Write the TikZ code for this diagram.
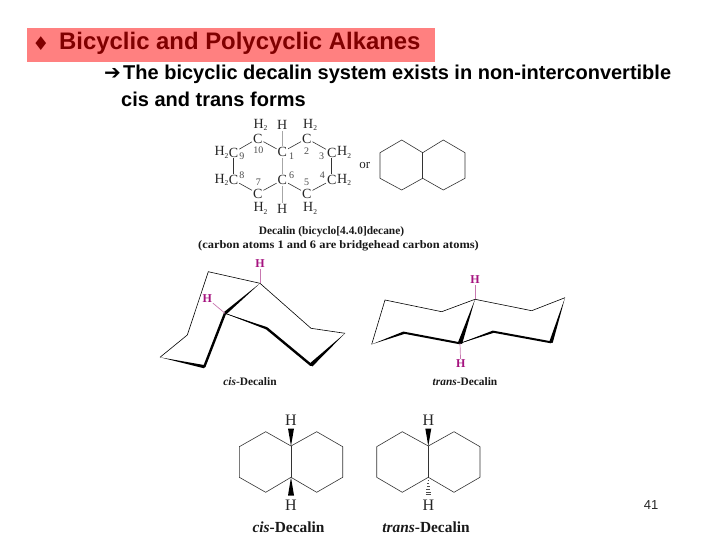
\documentclass[tikz,border=0pt]{standalone}
\usepackage{fontspec}
\setmainfont{Liberation Serif}
\setsansfont{Liberation Sans}
\newfontfamily\symfont{DejaVu Sans}
\usetikzlibrary{calc}
\definecolor{titlebg}{HTML}{FF8080}
\definecolor{titlefg}{HTML}{800000}
\definecolor{hmag}{HTML}{A5127F}
\definecolor{hbond}{HTML}{C878B0}
\tikzset{
  atom/.style={inner sep=0pt,font=\fontsize{14}{14}\selectfont,text=black!85},
  atomw/.style={atom,anchor=west},
  num/.style={inner sep=0pt,font=\fontsize{10}{10}\selectfont,text=black!70},
  bond/.style={draw=black!80,line width=0.6pt,shorten <=1pt,shorten >=1pt},
  lbond/.style={draw=black!35,line width=0.6pt,shorten <=1pt,shorten >=1pt},
  ring/.style={draw=black!80,line width=0.6pt,line join=round},
  conf/.style={draw=black,line width=0.6pt,line join=round},
  thickb/.style={draw=black,line width=2.4pt,line cap=round},
  hlabel/.style={inner sep=0pt,text=hmag,font=\fontsize{12}{12}\bfseries\selectfont},
  hblack/.style={inner sep=0pt,text=black!85,font=\fontsize{16}{16}\selectfont},
  hbondc/.style={draw=hbond,line width=0.7pt,shorten >=1pt},
  captxt/.style={inner sep=0pt,text=black!90,font=\fontsize{11.4}{12}\bfseries\selectfont},
  capbig/.style={inner sep=0pt,text=black!90,font=\fontsize{15.4}{16}\bfseries\selectfont},
  sans/.style={inner sep=0pt,anchor=west,text=black,font=\sffamily\bfseries\fontsize{20}{22}\selectfont}
}
\newcommand{\wedgeb}[3]{\fill[black] (#1) -- ($(#2)!#3!90:(#1)$) -- ($(#2)!#3!-90:(#1)$) -- cycle;}
\newcommand{\subtwo}{\raisebox{-2.5pt}{\fontsize{7.5}{7.5}\selectfont 2}}
\begin{document}
\begin{tikzpicture}[x=1pt,y=-1pt]
\useasboundingbox (0,0) rectangle (720,540);
\fill[white] (0,0) rectangle (720,540);
% title
\node[fill=titlebg,minimum width=408pt,minimum height=34pt,inner sep=0pt,anchor=north west] (band) at (27,28) {};
\node[inner sep=0pt,text=titlefg,font=\symfont\fontsize{19}{19}\selectfont] (dia) at (41,44) {♦};
\node[sans,text=titlefg,font=\sffamily\bfseries\fontsize{23.9}{26}\selectfont] (title) at (59,43.5) {Bicyclic and Polycyclic Alkanes};
\node[inner sep=0pt,anchor=west,font=\symfont\fontsize{20}{20}\selectfont] (arr) at (104,73.5) {➔};
\node[sans] (l1) at (123,74) {The bicyclic decalin system exists in non-interconvertible};
\node[sans] (l2) at (121,99) {cis and trans forms};
% condensed structure
\node[atom] (c10) at (257.7,138.5) {C};
\node[atom] (c1) at (282.3,152) {C};
\node[atom] (c2) at (306.7,138.5) {C};
\node[atom] (c3) at (331.7,152.5) {C};
\node[atom] (c4) at (331.7,180) {C};
\node[atom] (c5) at (306.7,193.5) {C};
\node[atom] (c6) at (282.3,180) {C};
\node[atom] (c7) at (257.7,193.5) {C};
\node[atom] (c8) at (233.5,180) {C};
\node[atom] (c9) at (233.5,152.5) {C};
\node[atomw] (h10) at (253.3,125) {H\subtwo};
\node[atom] (h1) at (282.3,125) {H};
\node[atomw] (h2) at (303,125) {H\subtwo};
\node[atomw] (h3) at (337,152.5) {H\subtwo};
\node[atomw] (h4) at (337,180) {H\subtwo};
\node[atomw] (h5) at (303,208.5) {H\subtwo};
\node[atom] (h6) at (282.3,208.5) {H};
\node[atomw] (h7) at (253.3,208.5) {H\subtwo};
\node[atomw] (h8) at (214.3,180) {H\subtwo};
\node[atomw] (h9) at (214.3,152.5) {H\subtwo};
\node[num] (n1) at (291.7,156.7) {1};
\node[num] (n2) at (306.7,151) {2};
\node[num] (n3) at (321.7,156.7) {3};
\node[num] (n4) at (322.3,175.7) {4};
\node[num] (n5) at (306.7,182.3) {5};
\node[num] (n6) at (291.7,175) {6};
\node[num] (n7) at (258.3,182.3) {7};
\node[num] (n8) at (241.9,175) {8};
\node[num] (n9) at (241.9,156) {9};
\node[num] (n10) at (258.3,150.7) {10};
\draw[bond] (c10)--(c1);
\draw[bond] (c1)--(c2);
\draw[bond] (c2)--(c3);
\draw[bond] (c3)--(c4);
\draw[bond] (c4)--(c5);
\draw[bond] (c5)--(c6);
\draw[bond] (c6)--(c7);
\draw[bond] (c7)--(c8);
\draw[bond] (c8)--(c9);
\draw[bond] (c9)--(c10);
\draw[lbond] (c1)--(c6);
\draw[lbond] (h1)--(c1);
\draw[lbond] (c6)--(h6);
\node[inner sep=0pt,text=black!85,font=\fontsize{13}{13}\selectfont] (or) at (364.7,166) {or};
% skeletal
\coordinate (a1) at (380,152.7);
\coordinate (a2) at (401.7,140);
\coordinate (a3) at (422.7,152.7);
\coordinate (a4) at (443.3,140);
\coordinate (a5) at (465,152.7);
\coordinate (a6) at (465,178.3);
\coordinate (a7) at (443.3,190);
\coordinate (a8) at (422.7,178.3);
\coordinate (a9) at (401.7,190);
\coordinate (a10) at (380,178.3);
\draw[ring] (a1)--(a2)--(a3)--(a4)--(a5)--(a6)--(a7)--(a8)--(a9)--(a10)--cycle;
\draw[ring] (a3)--(a8);
\node[captxt] (cap1) at (331.5,231.5) {Decalin (bicyclo[4.4.0]decane)};
\node[captxt,xscale=1.09,transform shape] (cap2) at (338.5,246) {(carbon atoms 1 and 6 are bridgehead carbon atoms)};
% cis chair
\coordinate (ca) at (208.3,271.7);
\coordinate (cb) at (260,283.3);
\coordinate (cc) at (225,313.3);
\coordinate (cd) at (266.7,328.3);
\coordinate (ce) at (311,365);
\coordinate (cf) at (345,333.3);
\coordinate (cg) at (311,328.3);
\coordinate (ch) at (187.3,335);
\coordinate (ci) at (160,357.3);
\coordinate (cj) at (204.3,366.7);
\draw[conf] (cc)--(cd);
\draw[conf] (ci)--(ch)--(ca)--(cb)--(cg)--(cf);
\wedgeb{cb}{cc}{1.6pt}
\wedgeb{ci}{cj}{1.6pt}
\wedgeb{cf}{ce}{2pt}
\wedgeb{cc}{cd}{1.2pt}
\draw[thickb] (cc)--(cj);
\draw[thickb] (cd)--(ce);
\node[hlabel] (hc1) at (260,263.5) {H};
\node[hlabel] (hc2) at (207.3,298.5) {H};
\draw[hbondc] (cb)--(hc1);
\draw[hbondc] (cc)--(hc2);
\node[captxt] (cap3) at (250,382) {\textit{cis}-Decalin};
% trans chair
\coordinate (tp) at (385,300);
\coordinate (tq) at (441.7,311.7);
\coordinate (tr) at (475,299.3);
\coordinate (ts) at (531.7,310.7);
\coordinate (tt) at (565,297.7);
\coordinate (tu) at (551,342.3);
\coordinate (tv) at (493.3,331.7);
\coordinate (tw) at (460,343.3);
\coordinate (tx) at (404,332.7);
\coordinate (ty) at (371.7,344.3);
\draw[conf] (ty)--(tp)--(tq)--(tr)--(ts)--(tt);
\draw[conf] (tw)--(tv);
\wedgeb{tr}{tw}{2.2pt}
\wedgeb{tt}{tu}{1.8pt}
\wedgeb{ty}{tx}{1.3pt}
\wedgeb{tw}{tv}{1.2pt}
\draw[thickb,line width=2pt] (tx)--(tw);
\draw[thickb,line width=2pt] (tv)--(tu);
\node[hlabel] (ht1) at (475,280) {H};
\node[hlabel] (ht2) at (460.7,364) {H};
\draw[hbondc] (tr)--(ht1);
\draw[hbondc] (tw)--(ht2);
\node[captxt] (cap4) at (465,382) {\textit{trans}-Decalin};
% flat cis
\coordinate (p1) at (239.3,446.7);
\coordinate (p2) at (265.7,431.7);
\coordinate (p3) at (291,446);
\coordinate (p4) at (316.7,431.7);
\coordinate (p5) at (342.7,446.7);
\coordinate (p6) at (342.7,477.3);
\coordinate (p7) at (316.7,492.3);
\coordinate (p8) at (291,477.3);
\coordinate (p9) at (265.7,492.3);
\coordinate (p10) at (239.3,477.3);
\draw[ring] (p1)--(p2)--(p3)--(p4)--(p5)--(p6)--(p7)--(p8)--(p9)--(p10)--cycle;
\draw[ring] (p3)--(p8);
\node[hblack] (ph1) at (291,420) {H};
\node[hblack] (ph2) at (291,505.7) {H};
\coordinate (pw1) at (291,428.5);
\coordinate (pw2) at (291,495.5);
\wedgeb{p3}{pw1}{3pt}
\wedgeb{p8}{pw2}{3pt}
\node[capbig] (cap5) at (288.5,527.5) {\textit{cis}-Decalin};
% flat trans
\coordinate (q1) at (376.7,446.7);
\coordinate (q2) at (402.3,431.7);
\coordinate (q3) at (428.3,446);
\coordinate (q4) at (454,431.7);
\coordinate (q5) at (480,446.7);
\coordinate (q6) at (480,477.3);
\coordinate (q7) at (454,492.3);
\coordinate (q8) at (428.3,477.3);
\coordinate (q9) at (402.3,492.3);
\coordinate (q10) at (376.7,477.3);
\draw[ring] (q1)--(q2)--(q3)--(q4)--(q5)--(q6)--(q7)--(q8)--(q9)--(q10)--cycle;
\draw[ring] (q3)--(q8);
\node[hblack] (qh1) at (428.3,420) {H};
\node[hblack] (qh2) at (428.3,505.7) {H};
\coordinate (qw1) at (428.3,428.5);
\coordinate (qw2) at (428.3,495);
\wedgeb{q3}{qw1}{3pt}
\foreach \t/\w in {0.15/0.7,0.32/1.1,0.49/1.5,0.66/1.9,0.83/2.3,0.98/2.7}{
  \draw[black!70,line width=0.5pt] ($(q8)!\t!(qw2)+(-\w,0)$) -- ($(q8)!\t!(qw2)+(\w,0)$);
}
\node[capbig] (cap6) at (426,527.5) {\textit{trans}-Decalin};
\node[inner sep=0pt,text=black!85,font=\sffamily\fontsize{13}{14}\selectfont] (pg) at (651,505) {41};
\end{tikzpicture}
\end{document}
